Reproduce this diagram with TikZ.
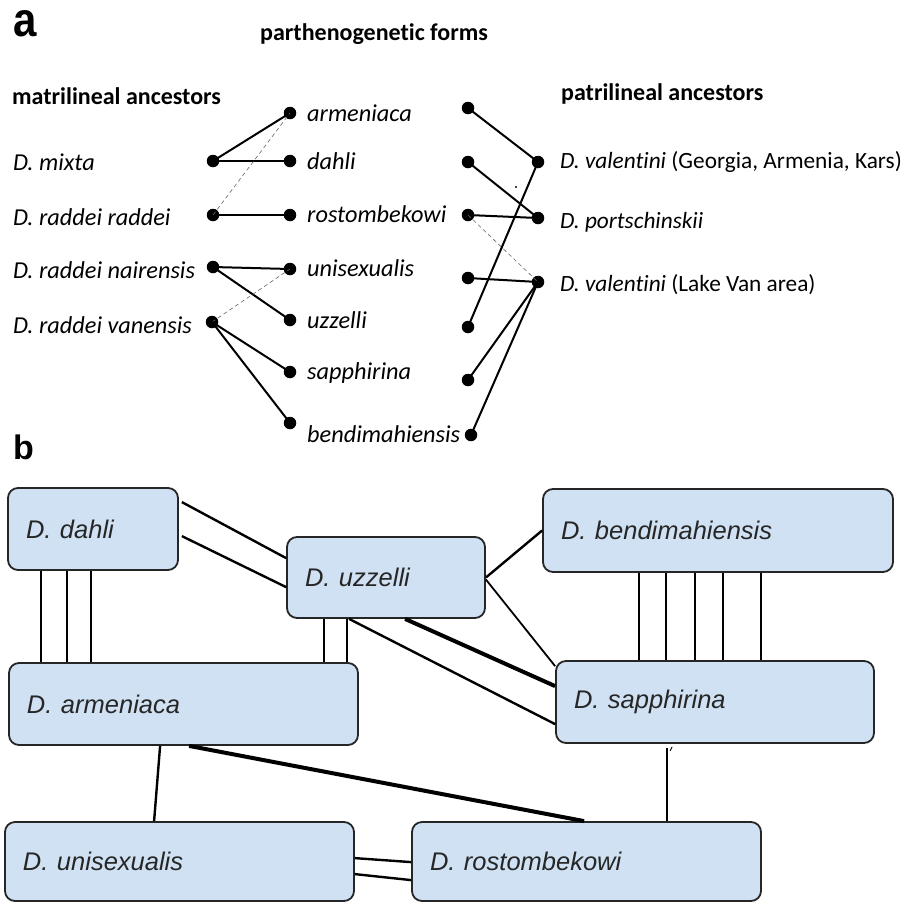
\documentclass[tikz,border=0pt]{standalone}
\usepackage{fontspec}
\setmainfont{Carlito}[Ligatures=NoCommon]
\newfontfamily\arialf{Liberation Sans}
\usetikzlibrary{calc}
\definecolor{boxblue}{HTML}{CFE1F2}
\begin{document}
\begin{tikzpicture}[x=1pt,y=-1pt,
  dot/.style={circle,fill=black,inner sep=0pt,minimum size=12.5pt},
  lab/.style={anchor=west,inner sep=0pt,font=\fontsize{24.3}{26}\selectfont\itshape},
  rlab/.style={anchor=west,inner sep=0pt,font=\fontsize{23.3}{26}\selectfont\itshape},
  hdr/.style={anchor=west,inner sep=0pt,font=\fontsize{24}{26}\selectfont\bfseries},
  panel/.style={anchor=west,inner sep=0pt,font=\arialf\fontsize{34}{36}\selectfont\bfseries},
  link/.style={line width=2pt},
  dlink/.style={line width=0.6pt,black!60,dash pattern=on 4pt off 3pt},
  box/.style={draw=black!85,line width=1.8pt,fill=boxblue,rounded corners=10pt,inner xsep=18pt,inner ysep=0pt,align=left,font=\arialf\itshape\fontsize{25.5}{28}\selectfont,text=black!85},
  bl/.style={line width=2.4pt},
  bthick/.style={line width=4pt}]
\useasboundingbox (0,0) rectangle (913,903);
% ---------- panel a ----------
\node[panel,font=\arialf\fontsize{42}{44}\selectfont\bfseries,yscale=1.15] (pa) at (13,24) {a};
\node[hdr] (hpf) at (260,34) {parthenogenetic forms};
\node[hdr] (hma) at (12,96) {matrilineal ancestors};
\node[hdr] (hpa) at (561,94) {patrilineal ancestors};
% matrilineal dots
\node[dot] (m1) at (213,161) {};
\node[dot] (m2) at (213,215) {};
\node[dot] (m3) at (213,267) {};
\node[dot] (m4) at (212,322) {};
\node[lab] (lm1) at (13,162) {D. mixta};
\node[lab] (lm2) at (13,217) {D. raddei raddei};
\node[lab] (lm3) at (13,270) {D. raddei nairensis};
\node[lab] (lm4) at (13,325) {D. raddei vanensis};
% parthenogenetic dots
\node[dot] (p1) at (290,113) {};
\node[dot] (p2) at (290,161) {};
\node[dot] (p3) at (290,215) {};
\node[dot] (p4) at (290,269) {};
\node[dot] (p5) at (290,320) {};
\node[dot] (p6) at (290,372) {};
\node[dot] (p7) at (290,423) {};
\node[lab] (lp1) at (307,113) {armeniaca};
\node[lab] (lp2) at (307,161) {dahli};
\node[lab] (lp3) at (307,214) {rostombekowi};
\node[lab] (lp4) at (307,268) {unisexualis};
\node[lab] (lp5) at (307,320) {uzzelli};
\node[lab] (lp6) at (307,373) {sapphirina};
\node[lab] (lp7) at (307,434) {bendimahiensis};
% right column dots
\node[dot] (r1) at (468,108) {};
\node[dot] (r2) at (468,162) {};
\node[dot] (r3) at (468,215) {};
\node[dot] (r4) at (468,278) {};
\node[dot] (r5) at (468,327) {};
\node[dot] (r6) at (468,380) {};
\node[dot] (r7) at (471,435) {};
% patrilineal dots
\node[dot] (q1) at (538,162) {};
\node[dot] (q2) at (538,218) {};
\node[dot] (q3) at (538,282) {};
\node[rlab] (lq1) at (560,162) {D. valentini {\upshape (Georgia, Armenia, Kars)}};
\node[rlab] (lq2) at (560,222) {D. portschinskii};
\node[rlab] (lq3) at (560,285) {D. valentini {\upshape (Lake Van area)}};
\fill (516,187) circle (1.2);
% links a
\draw[link] (m1.center) -- (p1.center);
\draw[link] (m1.center) -- (p2.center);
\draw[link] (m2.center) -- (p3.center);
\draw[dlink] (m2.center) -- (p1.center);
\draw[link] (m3.center) -- (p4.center);
\draw[link] (m3.center) -- (p5.center);
\draw[dlink] (m4.center) -- (p4.center);
\draw[link] (m4.center) -- (p6.center);
\draw[link] (m4.center) -- (p7.center);
\draw[link] (r1.center) -- (q1.center);
\draw[link] (r2.center) -- (q2.center);
\draw[link] (r3.center) -- (q2.center);
\draw[dlink] (r3.center) -- (q3.center);
\draw[link] (r4.center) -- (q3.center);
\draw[link] (r5.center) -- (q1.center);
\draw[link] (r6.center) -- (q3.center);
\draw[link] (r7.center) -- (q3.center);
% ---------- panel b ----------
\node[panel] (pb) at (13,447) {b};
\node[box,text width=134pt,minimum height=82pt] (bdahli) at (93,529) {D. dahli};
\node[box,text width=162pt,minimum height=81pt] (buzz) at (386,577.5) {D. uzzelli};
\node[box,text width=314pt,minimum height=83pt] (bbend) at (718,530.5) {D. bendimahiensis};
\node[box,text width=313pt,minimum height=82pt] (barm) at (183.5,704) {D. armeniaca};
\node[box,text width=282pt,minimum height=82pt] (bsap) at (715,702) {D. sapphirina};
\node[box,text width=313pt,minimum height=79pt] (buni) at (179.5,861.5) {D. unisexualis};
\node[box,text width=313pt,minimum height=79pt] (bros) at (586.5,861.5) {D. rostombekowi};
% links b
\draw[bl] ($(bdahli.north east)+(3,15)$) -- ($(buzz.north west)+(0,22)$);
\draw[bl] ($(bdahli.north east)+(3,49)$) -- ($(buzz.north west)+(0,51)$);
\foreach \dx in {34,60,84}
  \draw[bl] ($(bdahli.south west)+(\dx,0)$) -- ($(barm.north west)+(\dx-1,0)$);
\foreach \dx in {38,61}
  \draw[bl] ($(buzz.south west)+(\dx,0)$) -- ($(barm.north west)+(\dx+278,0)$);
\draw[bl] (buzz.east) -- (bbend.west);
\draw[line width=1.8pt] ($(buzz.east)+(0,2)$) -- ($(bsap.north west)+(0,6)$);
\draw[bthick] ($(buzz.south west)+(119,0)$) -- ($(bsap.north west)+(0,26)$);
\draw[bl] ($(buzz.south west)+(63,0)$) -- ($(bsap.north west)+(0,64)$);
\foreach \dx in {97,124,153,181,219}
  \draw[bl] ($(bbend.south west)+(\dx,0)$) -- ($(bsap.north west)+(\dx-13,0)$);
\draw[bl] ($(barm.south west)+(152,0)$) -- ($(buni.north west)+(150,0)$);
\draw[bthick] ($(barm.south west)+(181,0)$) -- ($(bros.north west)+(173,0)$);
\draw[bl] ($(bsap.south west)+(112,4)$) -- ($(bros.north west)+(256,0)$);
\draw[line width=1pt] ($(bsap.south west)+(115,7)$) -- ($(bsap.south west)+(117,3)$);
\draw[bl] ($(buni.north east)+(0,37)$) -- ($(bros.north west)+(0,41)$);
\draw[bl] ($(buni.north east)+(0,53)$) -- ($(bros.north west)+(0,59)$);
\end{tikzpicture}
\end{document}
